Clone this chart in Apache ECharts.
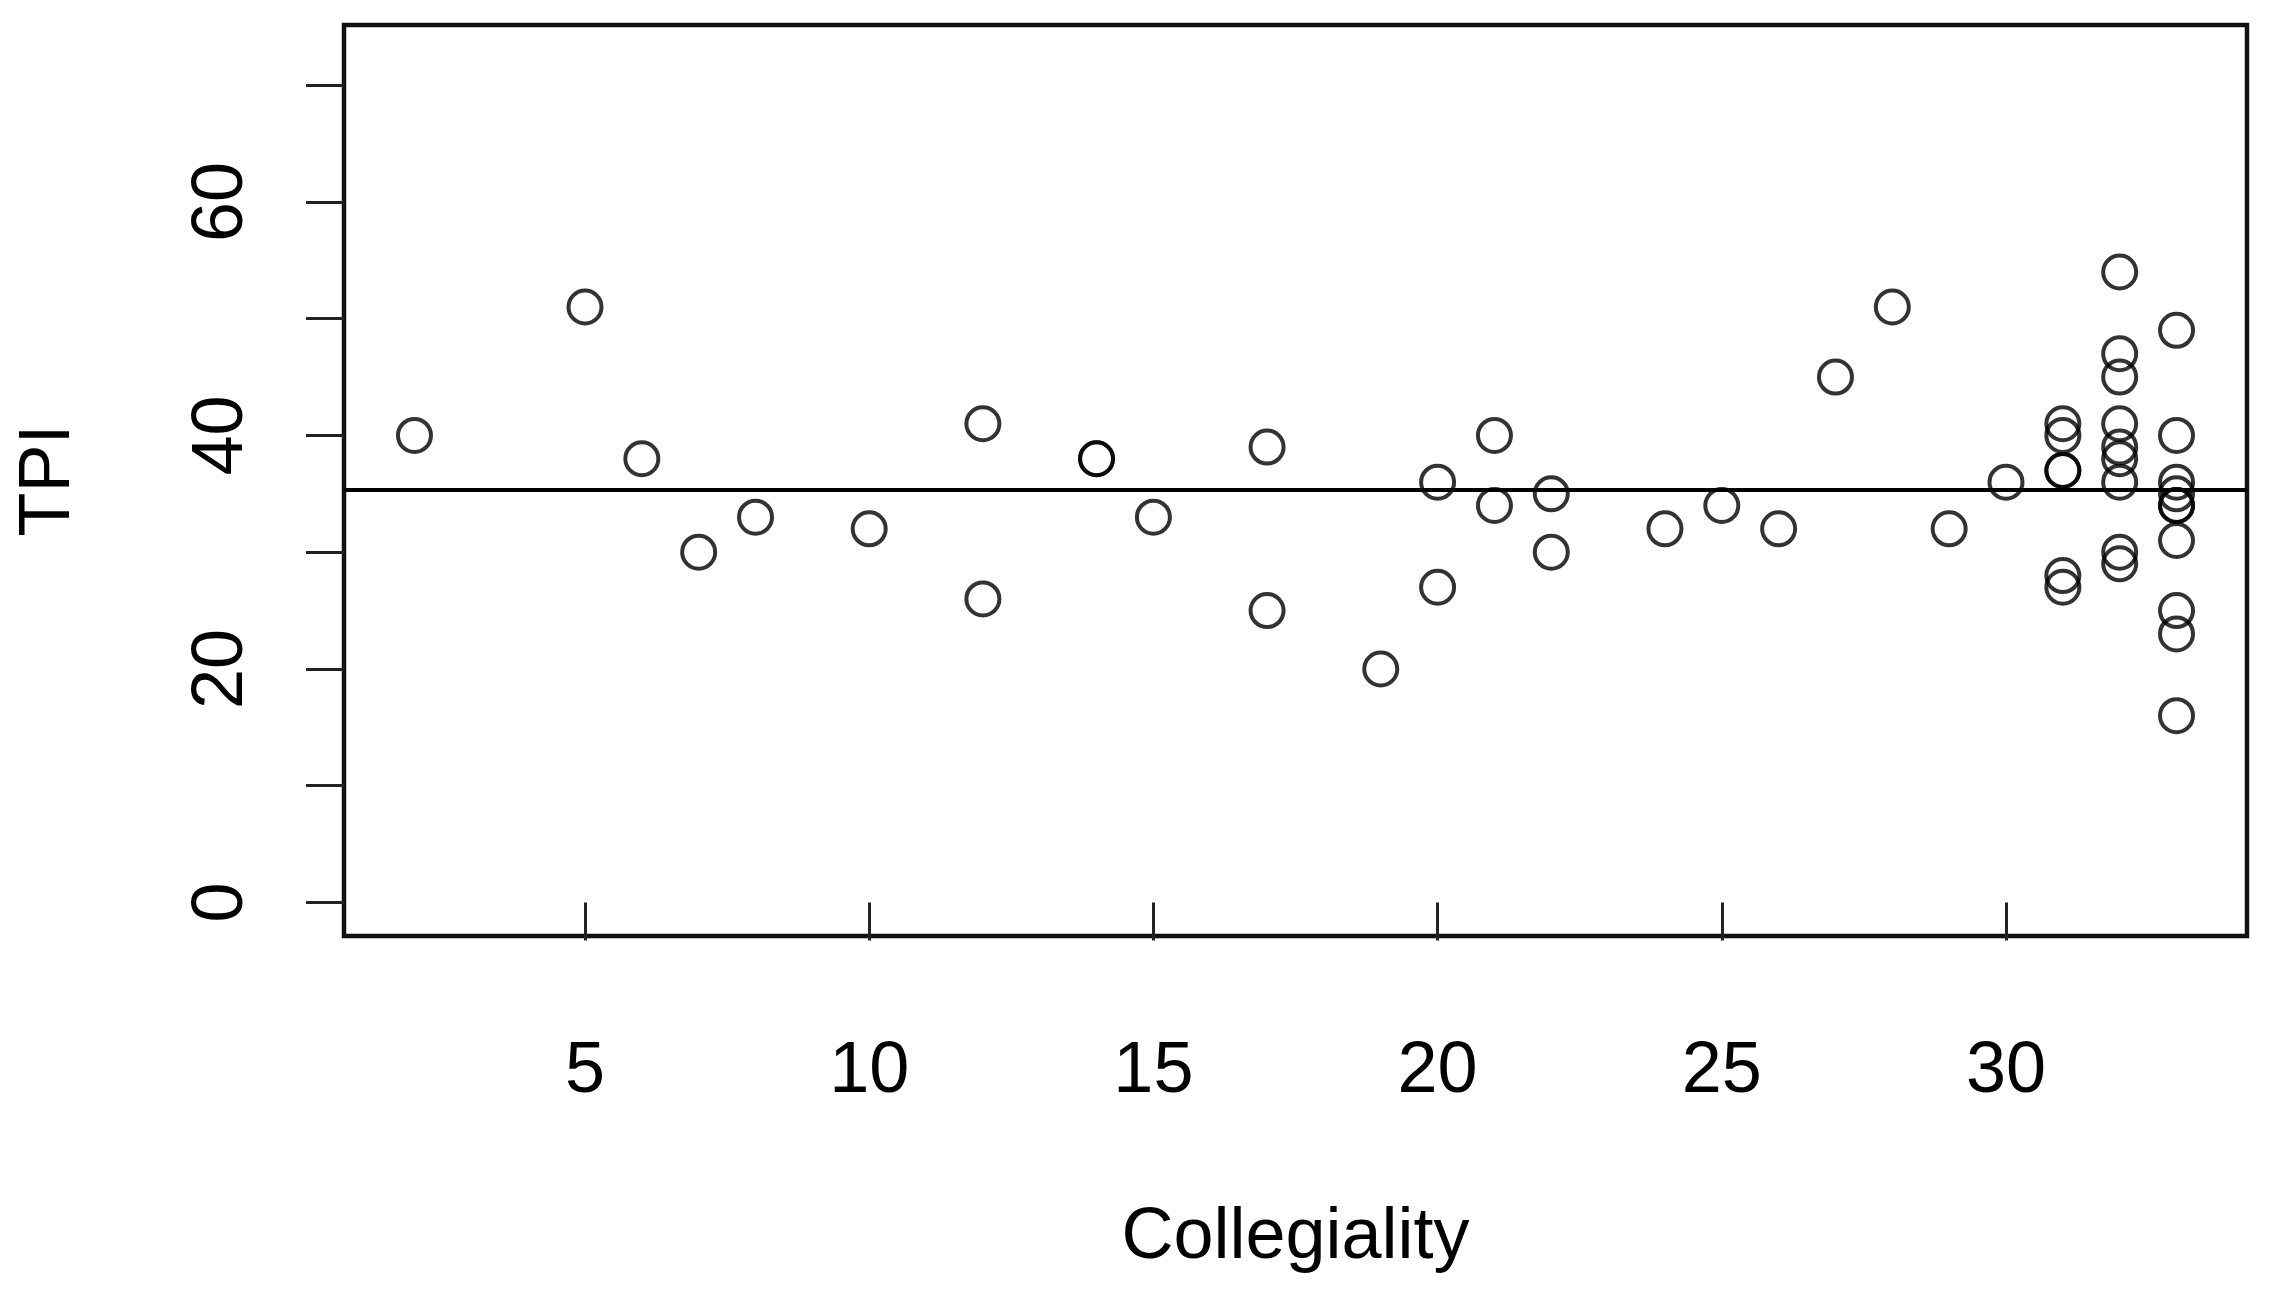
<!DOCTYPE html>
<html>
<head>
<meta charset="utf-8">
<script src="https://cdn.jsdelivr.net/npm/echarts@6/dist/echarts.min.js"></script>
<style>
html,body{margin:0;padding:0;background:#fff;}
#chart{width:2275px;height:1289px;}
</style>
</head>
<body>
<div id="chart"></div>
<script>
// Collegiality (x) and TPI (y) values
const collegiality = [2, 5, 6, 7, 8, 10, 12, 12, 14, 14, 15, 17, 17, 19, 20, 20, 21, 21, 22, 22, 24, 25, 26, 27, 28, 29, 30,
  31, 31, 31, 31, 31, 31,
  32, 32, 32, 32, 32, 32, 32, 32, 32,
  33, 33, 33, 33, 33, 33, 33, 33, 33, 33];
const tpi = [40, 51, 38, 30, 33, 32, 41, 26, 38, 38, 33, 39, 25, 20, 36, 27, 40, 34, 35, 30, 32, 34, 32, 45, 51, 32, 36,
  41, 40, 37, 37, 28, 27,
  54, 47, 45, 41, 39, 38, 36, 30, 29,
  49, 40, 36, 35, 34, 34, 31, 25, 23, 16];
const xTicks = [5, 10, 15, 20, 25, 30];
const yTicks = [0, 10, 20, 30, 40, 50, 60, 70];
const yLabels = [0, 20, 40, 60];
const xName = 'Collegiality';
const yName = 'TPI';

const points = collegiality.map((x, i) => [x, tpi[i]]);
const FONT = 'Liberation Sans, Arial, Helvetica, sans-serif';

const chart = echarts.init(document.getElementById('chart'), null, {renderer: 'canvas'});
chart.setOption({
  animation: false,
  backgroundColor: '#fff',
  grid: {
    left: 344, right: 28, top: 25, bottom: 353,
    show: true, borderColor: '#111', borderWidth: 4.5, backgroundColor: 'transparent'
  },
  xAxis: {
    type: 'value', min: 0.76, max: 34.24,
    name: xName, nameLocation: 'middle', nameGap: 266,
    nameTextStyle: {fontSize: 72, fontFamily: FONT, color: '#000'},
    axisLine: {show: false},
    splitLine: {show: false},
    axisTick: {show: true, length: 38, customValues: xTicks, lineStyle: {color: '#222', width: 3}},
    axisLabel: {show: true, customValues: xTicks, fontSize: 72, fontFamily: FONT, color: '#000', margin: 100}
  },
  yAxis: {
    type: 'value', min: -2.87, max: 75.15,
    name: yName, nameLocation: 'middle', nameGap: 259,
    nameTextStyle: {fontSize: 72, fontFamily: FONT, color: '#000'},
    axisLine: {show: false},
    splitLine: {show: false},
    axisTick: {show: true, length: 38, customValues: yTicks, lineStyle: {color: '#222', width: 3}},
    axisLabel: {show: true, customValues: yLabels, rotate: 90, fontSize: 72, fontFamily: FONT, color: '#000', margin: 86}
  },
  series: [{
    type: 'scatter',
    data: points,
    symbol: 'circle',
    symbolSize: 33,
    itemStyle: {color: 'rgba(0,0,0,0)', borderColor: '#000', borderWidth: 4},
    emphasis: {disabled: true},
    markLine: {
      silent: true,
      symbol: 'none',
      label: {show: false},
      lineStyle: {color: '#000', width: 4, type: 'solid'},
      emphasis: {disabled: true},
      data: [{type: 'average', valueDim: 'y'}]
    }
  }]
});
</script>
</body>
</html>
